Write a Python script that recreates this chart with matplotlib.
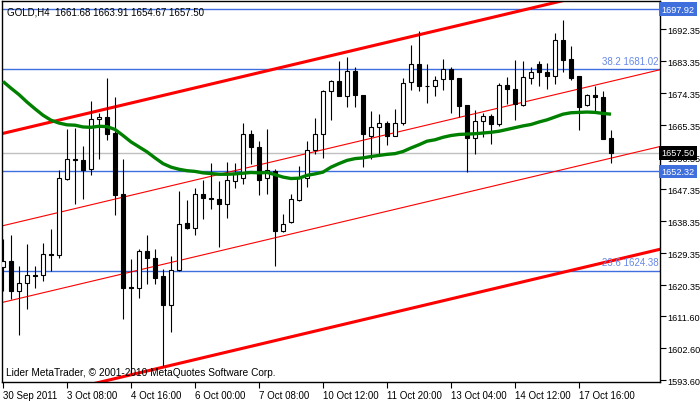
import numpy as np
import matplotlib
matplotlib.use("Agg")
import matplotlib.pyplot as plt

plt.rcParams['font.family'] = ['Liberation Sans', 'DejaVu Sans']

# GOLD H4 candles
opens = [1625.4, 1627.1, 1618.8, 1620.9, 1623.2, 1623.1, 1629.1, 1628.7, 1650.2, 1655.8,
         1655.6, 1652.9, 1667.0, 1667.6, 1663.2, 1646.0, 1619.7, 1619.5, 1630.0, 1628.0,
         1622.8, 1614.6, 1624.6, 1637.9, 1636.4, 1646.0, 1644.8, 1644.6, 1643.1, 1649.6,
         1650.4, 1662.8, 1659.2, 1650.4, 1652.5, 1635.4, 1638.0, 1644.2, 1650.4, 1658.2,
         1662.8, 1675.0, 1677.6, 1673.5, 1680.5, 1673.9, 1662.4, 1664.8, 1665.9, 1662.3,
         1665.9, 1677.4, 1682.6, 1676.4, 1676.3, 1678.2, 1681.0, 1678.6, 1671.1, 1661.7,
         1666.5, 1667.9, 1665.5, 1676.7, 1675.6, 1670.9, 1678.6, 1682.6, 1680.4, 1679.1,
         1689.4, 1684.0, 1679.0, 1670.9, 1673.8, 1673.3, 1661.68]
highs = [1633.4, 1634.5, 1625.8, 1632.0, 1625.7, 1632.2, 1636.0, 1652.6, 1664.1, 1664.6,
         1659.4, 1672.2, 1668.7, 1678.7, 1673.3, 1655.9, 1627.6, 1630.6, 1634.5, 1630.6,
         1624.9, 1628.5, 1646.9, 1644.3, 1647.6, 1650.0, 1654.8, 1649.6, 1654.9, 1654.8,
         1666.0, 1664.0, 1660.9, 1664.3, 1652.9, 1640.4, 1646.0, 1653.7, 1660.9, 1667.4,
         1675.3, 1677.9, 1683.4, 1684.4, 1681.6, 1673.9, 1669.3, 1668.5, 1666.6, 1669.8,
         1678.6, 1687.9, 1691.8, 1682.6, 1679.0, 1684.0, 1681.6, 1678.6, 1671.1, 1669.5,
         1668.7, 1668.4, 1677.1, 1678.8, 1683.5, 1683.3, 1681.7, 1683.3, 1682.9, 1691.3,
         1695.0, 1687.5, 1679.0, 1674.1, 1676.3, 1674.8, 1663.91]
lows = [1618.8, 1616.5, 1606.2, 1613.5, 1619.5, 1621.4, 1624.3, 1628.0, 1649.9, 1643.0,
        1644.4, 1651.2, 1655.9, 1661.0, 1640.1, 1610.7, 1595.4, 1616.7, 1620.7, 1620.7,
        1597.7, 1607.1, 1624.4, 1636.2, 1634.3, 1639.0, 1641.6, 1630.9, 1639.3, 1647.6,
        1648.8, 1654.4, 1645.6, 1646.0, 1625.6, 1635.3, 1637.9, 1644.0, 1647.8, 1657.3,
        1656.1, 1666.7, 1673.4, 1670.4, 1670.4, 1653.5, 1655.9, 1656.6, 1659.6, 1662.3,
        1665.4, 1675.1, 1674.8, 1671.6, 1673.4, 1675.1, 1668.8, 1667.5, 1652.1, 1657.3,
        1661.9, 1660.1, 1665.2, 1671.3, 1666.7, 1670.7, 1677.0, 1676.2, 1675.4, 1677.0,
        1680.4, 1677.9, 1664.0, 1670.6, 1669.2, 1661.3, 1654.67]
closes = [1627.0, 1618.8, 1620.9, 1623.2, 1622.9, 1629.1, 1628.8, 1650.4, 1655.8, 1655.4,
          1652.6, 1667.1, 1667.6, 1662.7, 1645.8, 1619.5, 1619.5, 1630.0, 1627.9, 1622.4,
          1614.6, 1624.6, 1637.5, 1636.4, 1645.9, 1644.7, 1644.5, 1643.0, 1649.9, 1651.9,
          1662.8, 1659.1, 1649.8, 1652.6, 1635.4, 1637.5, 1644.5, 1650.4, 1658.2, 1662.8,
          1675.0, 1677.7, 1673.4, 1680.5, 1673.7, 1662.7, 1664.8, 1665.9, 1662.3, 1665.9,
          1677.2, 1682.6, 1676.3, 1676.2, 1678.0, 1681.0, 1678.4, 1670.6, 1661.7, 1666.5,
          1667.9, 1665.5, 1676.7, 1675.4, 1671.3, 1678.8, 1680.4, 1680.4, 1679.1, 1689.2,
          1683.7, 1678.7, 1670.4, 1673.8, 1673.2, 1661.5, 1657.50]

# moving average (green), one value per bar
ma = [1677.6, 1675.7, 1673.9, 1671.8, 1669.9, 1668.1, 1666.7, 1665.9, 1665.4, 1665.3,
      1664.8, 1664.7, 1665.0, 1664.9, 1664.1, 1662.4, 1660.6, 1659.2, 1657.8, 1656.1,
      1654.5, 1653.5, 1652.9, 1652.5, 1652.3, 1651.9, 1651.7, 1651.5, 1651.5, 1651.6,
      1651.8, 1652.0, 1651.9, 1652.0, 1651.4, 1650.7, 1650.3, 1650.4, 1651.2, 1651.6,
      1652.1, 1653.5, 1654.5, 1655.4, 1655.9, 1656.1, 1656.5, 1656.8, 1657.1, 1657.3,
      1657.9, 1658.9, 1659.8, 1660.8, 1661.2, 1661.9, 1662.4, 1662.7, 1662.8, 1662.9,
      1663.1, 1663.3, 1663.6, 1664.1, 1664.6, 1665.1, 1665.5, 1666.2, 1666.8, 1667.6,
      1668.4, 1668.8, 1668.9, 1669.0, 1668.9, 1668.6, 1668.4]

# channel lines: price at left edge and right edge of the chart
chan_start = [1662.93, 1636.97, 1615.43, 1586.49]
chan_end = [1706.8, 1680.9, 1659.3, 1630.4]
chan_thick = [True, False, False, True]

# horizontal levels
fibo_levels = [1697.92, 1681.02, 1652.32, 1624.38]
fibo_text = ["", "38.2 1681.02", "", "23.6 1624.38"]
bid_price = 1657.50

price_ticks = [1692.35, 1683.35, 1674.35, 1665.35, 1656.35, 1647.35, 1638.35,
               1629.35, 1620.35, 1611.60, 1602.60, 1593.60]
date_labels = ["30 Sep 2011", "3 Oct 08:00", "4 Oct 16:00", "6 Oct 00:00", "7 Oct 08:00",
               "10 Oct 12:00", "11 Oct 20:00", "13 Oct 04:00", "14 Oct 12:00", "17 Oct 16:00"]
date_every = 8

####################################################

opens, highs, lows, closes = map(np.array, (opens, highs, lows, closes))
idx = np.arange(len(opens))
xmin, xmax = -0.125, 82.125

fig = plt.figure(figsize=(7.0, 4.02), dpi=100)
ax = fig.add_axes([2/700, 19/402, 658/700, 381/402])

# levels
blue = '#3f6fdc'
for lev, txt in zip(fibo_levels, fibo_text):
    ax.axhline(lev, color=blue, lw=1.0, zorder=1)
    if txt:
        ax.text(0.998, lev + 0.9, txt, transform=ax.get_yaxis_transform(),
                ha='right', va='bottom', fontsize=7, color='#6688e8')
ax.axhline(bid_price, color='#c0c0c0', lw=1.0, zorder=1)

# channel
for s, e, thick in zip(chan_start, chan_end, chan_thick):
    ax.plot([xmin, xmax], [s, e], color='red', lw=2.2 if thick else 0.8, zorder=2)

# candles
up = closes >= opens
ax.vlines(idx, lows, highs, color='black', lw=0.8, zorder=3)
body_lo = np.minimum(opens, closes)
body_h = np.maximum(np.abs(closes - opens), 0.05)
ax.bar(idx[up], body_h[up], 0.6, bottom=body_lo[up], color='white',
       edgecolor='black', lw=0.8, zorder=4)
ax.bar(idx[~up], body_h[~up], 0.6, bottom=body_lo[~up], color='black',
       edgecolor='black', lw=0.8, zorder=4)

# moving average
ax.plot(idx, ma, color='#008000', lw=2.4, zorder=5, solid_capstyle='butt')

ax.set_xlim(xmin, xmax)
ax.set_ylim(1593.07, 1700.23)

# axes and ticks
for sp in ax.spines.values():
    sp.set_color('black')
    sp.set_linewidth(1.0)
ax.yaxis.tick_right()
ax.set_yticks(price_ticks)
ax.set_yticklabels(["%.2f" % p for p in price_ticks])
ax.tick_params(axis='y', direction='out', length=4, width=0.8, pad=1.5, labelsize=6.6)
ax.set_xticks(idx[::date_every][:len(date_labels)])
ax.set_xticklabels(date_labels, ha='left')
ax.tick_params(axis='x', direction='out', length=4, width=0.8, pad=2, labelsize=7)

# price boxes on the right scale
def price_box(price, face):
    ax.text(1.0025, price, "%.2f" % price, transform=ax.get_yaxis_transform(),
            ha='left', va='center', fontsize=6.6, color='white', zorder=10, clip_on=False,
            bbox=dict(boxstyle='square,pad=0.25', facecolor=face, edgecolor='none'))

price_box(fibo_levels[0], blue)
price_box(bid_price, 'black')
price_box(fibo_levels[2], blue)

ax.text(0.008, 0.985, "GOLD,H4  %.2f %.2f %.2f %.2f" % (opens[-1], highs[-1], lows[-1], closes[-1]),
        transform=ax.transAxes, ha='left', va='top', fontsize=7, color='black', zorder=11)
ax.text(0.006, 0.012, "Lider MetaTrader, \u00a9 2001-2010 MetaQuotes Software Corp.",
        transform=ax.transAxes, ha='left', va='bottom', fontsize=7.3, color='black', zorder=11)

fig.savefig("out.png", dpi=100, facecolor='white')
